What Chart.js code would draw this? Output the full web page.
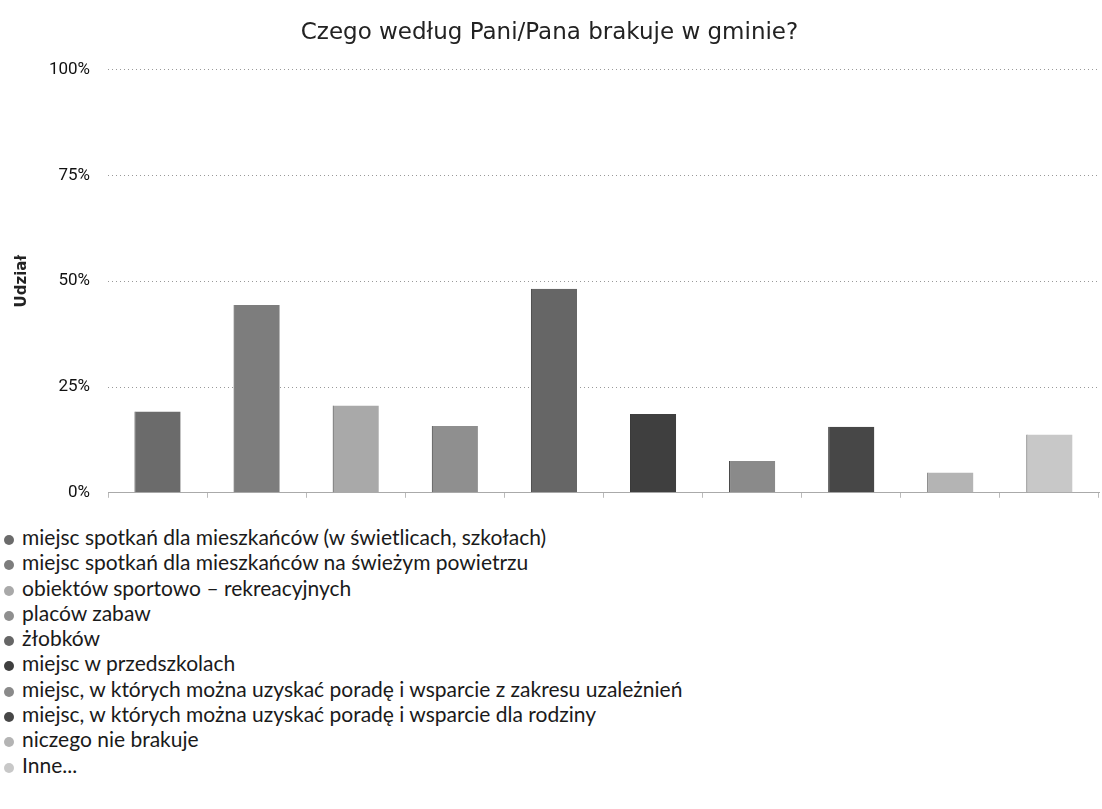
<!DOCTYPE html>
<html>
<head>
<meta charset="utf-8">
<script src="https://cdn.jsdelivr.net/npm/chart.js@4/dist/chart.umd.min.js"></script>
<style>
	body { margin: 0; background: #fff; }
	#wrap { position: relative; width: 1102px; height: 521px; }
	#legend { list-style: none; margin: 0; padding: 0; position: absolute; left: 0; top: 524px;
		font-family: Lato, sans-serif; font-size: 21px; color: #1a1a1a; }
	#legend li { height: 25.3px; line-height: 25.3px; white-space: nowrap; }
	#legend .dot { display: inline-block; width: 10px; height: 10px; border-radius: 50%;
		margin: 0 8px 0 4px; vertical-align: 0; }
</style>
</head>
<body>
<div id="wrap"><canvas id="needsChart"></canvas></div>
<ul id="legend"></ul>
<script>
// kategorie (legenda)
var categories = [
	'miejsc spotkań dla mieszkańców (w świetlicach, szkołach)',
	'miejsc spotkań dla mieszkańców na świeżym powietrzu',
	'obiektów sportowo – rekreacyjnych',
	'placów zabaw',
	'żłobków',
	'miejsc w przedszkolach',
	'miejsc, w których można uzyskać poradę i wsparcie z zakresu uzależnień',
	'miejsc, w których można uzyskać poradę i wsparcie dla rodziny',
	'niczego nie brakuje',
	'Inne...'
];
// udział odpowiedzi w %
var shares = [19.2, 44.4, 20.6, 15.8, 48.2, 18.6, 7.5, 15.6, 4.8, 13.8];
// podziałka osi Y
var yTicks = [0, 25, 50, 75, 100];

var barColors = ['#6b6b6b', '#7d7d7d', '#a9a9a9', '#8f8f8f', '#666666',
	'#3f3f3f', '#8a8a8a', '#474747', '#b4b4b4', '#c8c8c8'];

// legenda jako lista html, jeden wpis w wierszu
var htmlLegend = {
	id: 'htmlLegend',
	afterUpdate: function(chart) {
		var ul = document.getElementById('legend');
		ul.innerHTML = '';
		chart.data.labels.forEach(function(label, i) {
			var li = document.createElement('li');
			var dot = document.createElement('span');
			dot.className = 'dot';
			dot.style.background = chart.data.datasets[0].backgroundColor[i];
			li.appendChild(dot);
			li.appendChild(document.createTextNode(label));
			ul.appendChild(li);
		});
	}
};

var chartArea = document.getElementById('needsChart').getContext('2d');
var myChart = new Chart(chartArea, {
	type: 'bar',
	data: {
		labels: categories,
		datasets: [{
			label: 'Udział',
			data: shares,
			backgroundColor: barColors,
			borderColor: '#333',
			borderWidth: { left: 1, bottom: 1, right: 0, top: 0 },
			barPercentage: 0.466,
			categoryPercentage: 1
		}]
	},
	options: {
		responsive: true,
		maintainAspectRatio: false,
		animation: false,
		layout: { padding: { left: 0, right: 3, top: 0, bottom: 0 } },
		plugins: {
			legend: { display: false },
			tooltip: { enabled: false },
			title: {
				display: true,
				text: 'Czego według Pani/Pana brakuje w gminie?',
				color: '#222',
				font: { family: 'DejaVu Sans', size: 23, weight: 'normal' },
				padding: { top: 19, bottom: 23 }
			}
		},
		scales: {
			x: {
				offset: true,
				ticks: { display: false },
				grid: { drawOnChartArea: false, drawTicks: true, tickLength: 5, color: '#bbb' },
				border: { display: true, color: '#aaa', dash: [1, 3] }
			},
			y: {
				min: yTicks[0],
				max: yTicks[yTicks.length - 1],
				afterBuildTicks: function(scale) {
					scale.ticks = yTicks.map(function(v) { return { value: v }; });
				},
				afterFit: function(scale) { scale.width = 108; },
				ticks: {
					padding: 18,
					color: '#111',
					font: { family: 'Roboto', size: 17 },
					callback: function(value) { return value + '%'; }
				},
				grid: { drawTicks: false, color: '#999' },
				border: { display: false, dash: [1, 3] },
				title: {
					display: true,
					text: 'Udział',
					color: '#222',
					padding: { top: 13, bottom: 4 },
					font: { family: 'DejaVu Sans', size: 15, weight: 'bold' }
				}
			}
		}
	},
	plugins: [htmlLegend]
});
</script>
</body>
</html>
